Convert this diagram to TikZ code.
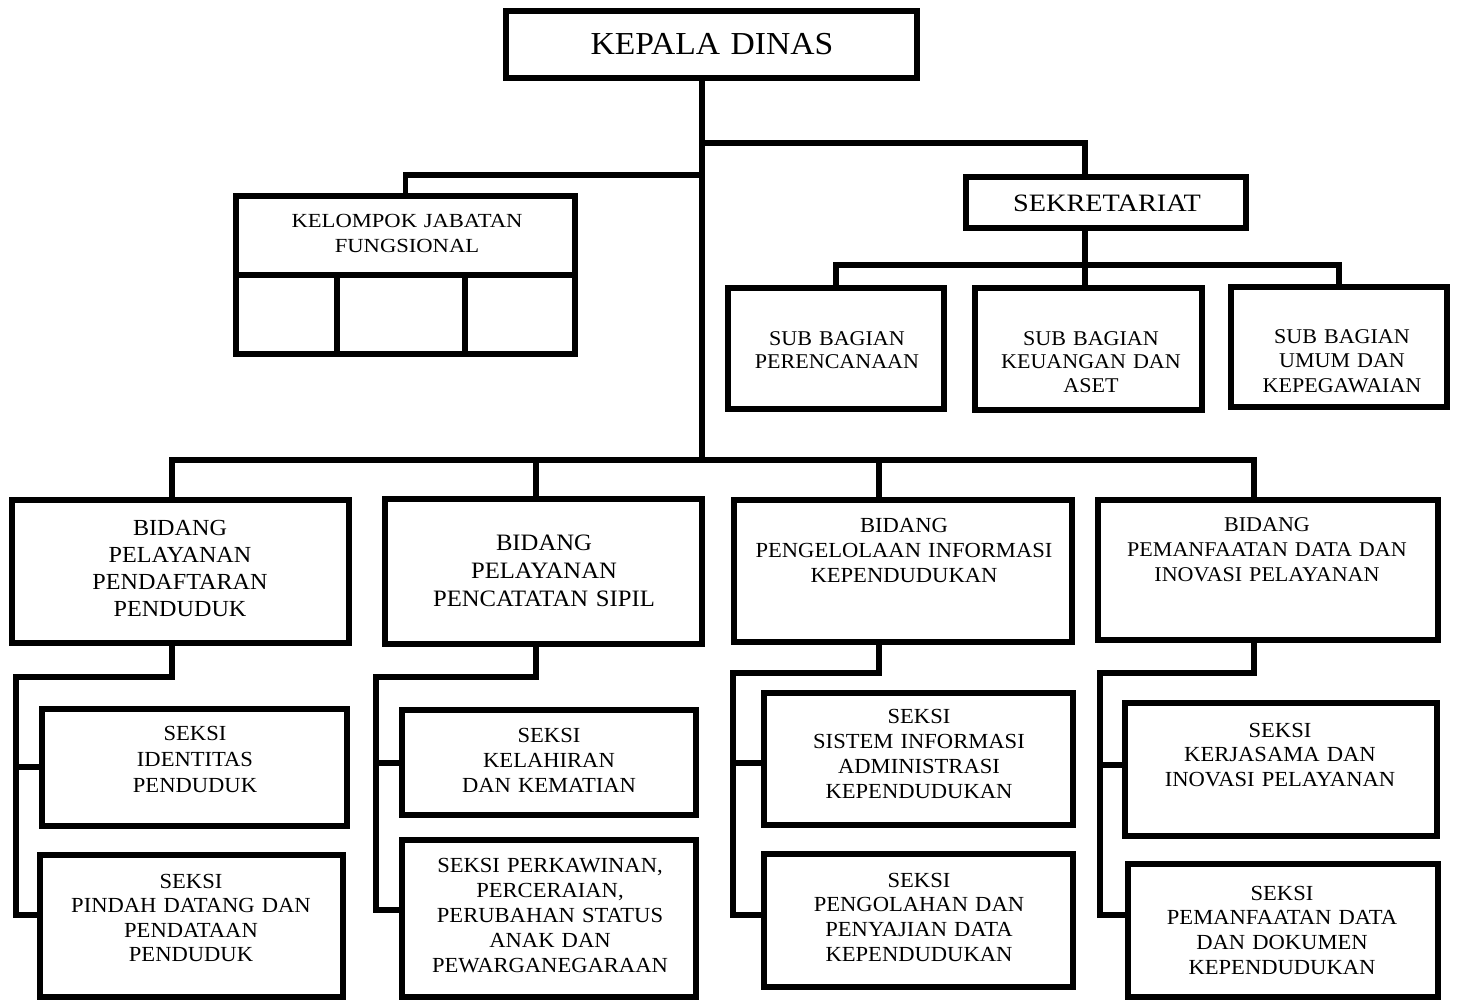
\documentclass[tikz,border=0pt]{standalone}
\usepackage{fontspec}
\setmainfont{Liberation Serif}[FakeStretch=1.05]
\newfontfamily\widefont{Liberation Serif}[FakeStretch=1.13]
\newcommand{\fsz}[2]{\fontsize{#1}{#2}\selectfont}
\begin{document}
\begin{tikzpicture}[x=1pt,y=-1pt,
  boxst/.style={draw=black,line width=6pt,rectangle,inner sep=0pt,outer sep=0pt},
  conn/.style={draw=black,line width=5.5pt,line cap=rect,line join=miter},
  lbl/.style={text width=330pt,align=center,anchor=base,inner sep=0pt,text=black}]
\useasboundingbox[fill=white] (0,0) rectangle (1459,1000);

% ---------- boxes ----------
\node[boxst,minimum width=411pt,minimum height=67pt] (kd) at (711.5,44.5) {};
\node[boxst,minimum width=339pt,minimum height=79pt] (kjf) at (405.5,235.5) {};
\node[boxst,minimum width=101pt,minimum height=79pt] (c1) at (286.5,314.5) {};
\node[boxst,minimum width=128pt,minimum height=79pt] (c2) at (401,314.5) {};
\node[boxst,minimum width=110pt,minimum height=79pt] (c3) at (520,314.5) {};
\node[boxst,minimum width=280pt,minimum height=51pt] (sek) at (1106,202.5) {};
\node[boxst,minimum width=216pt,minimum height=121pt] (sb1) at (836,348.5) {};
\node[boxst,minimum width=227pt,minimum height=122pt] (sb2) at (1088.5,349) {};
\node[boxst,minimum width=216pt,minimum height=120pt] (sb3) at (1339,347) {};
\node[boxst,minimum width=337pt,minimum height=143pt] (b1) at (180.5,571.5) {};
\node[boxst,minimum width=317pt,minimum height=145pt] (b2) at (543.5,571.5) {};
\node[boxst,minimum width=338pt,minimum height=142pt] (b3) at (903,571) {};
\node[boxst,minimum width=340pt,minimum height=140pt] (b4) at (1268,570) {};
\node[boxst,minimum width=305pt,minimum height=117pt] (s11) at (194.5,767.5) {};
\node[boxst,minimum width=303pt,minimum height=142pt] (s12) at (191.5,926) {};
\node[boxst,minimum width=294pt,minimum height=105pt] (s21) at (549,762.5) {};
\node[boxst,minimum width=294pt,minimum height=157pt] (s22) at (549,918.5) {};
\node[boxst,minimum width=309pt,minimum height=132pt] (s31) at (918.5,759) {};
\node[boxst,minimum width=309pt,minimum height=133pt] (s32) at (918.5,920.5) {};
\node[boxst,minimum width=312pt,minimum height=133pt] (s41) at (1281,769.5) {};
\node[boxst,minimum width=310pt,minimum height=133pt] (s42) at (1283,930.5) {};

% ---------- texts ----------
\node[lbl,font=\fsz{32}{38}] (kdt) at (712,55) {KEPALA DINAS};
\node[lbl,font=\widefont\fsz{20}{25}] (kjft) at (407,228) {KELOMPOK JABATAN\\FUNGSIONAL};
\node[lbl,font=\widefont\fsz{25}{30}] (sekt) at (1107,212) {SEKRETARIAT};
\node[lbl,font=\fsz{21}{23.5}] (sb1t) at (837,345) {SUB BAGIAN\\PERENCANAAN};
\node[lbl,font=\fsz{21}{23.5}] (sb2t) at (1091,345) {SUB BAGIAN\\KEUANGAN DAN\\ASET};
\node[lbl,font=\fsz{21}{24}] (sb3t) at (1342,344) {SUB BAGIAN\\UMUM DAN\\KEPEGAWAIAN};
\node[lbl,font=\fsz{23}{27.3}] (b1t) at (180,535) {BIDANG\\PELAYANAN\\PENDAFTARAN\\PENDUDUK};
\node[lbl,font=\fsz{23.5}{28}] (b2t) at (544,550) {BIDANG\\PELAYANAN\\PENCATATAN SIPIL};
\node[lbl,font=\fsz{21.5}{25}] (b3t) at (904,532) {BIDANG\\PENGELOLAAN INFORMASI\\KEPENDUDUKAN};
\node[lbl,font=\fsz{21}{25}] (b4t) at (1267,531) {BIDANG\\PEMANFAATAN DATA DAN\\INOVASI PELAYANAN};
\node[lbl,font=\fsz{21.5}{26}] (s11t) at (195,740) {SEKSI\\IDENTITAS\\PENDUDUK};
\node[lbl,font=\fsz{21.5}{24.5}] (s12t) at (191,888) {SEKSI\\PINDAH DATANG DAN\\PENDATAAN\\PENDUDUK};
\node[lbl,font=\fsz{21.5}{25}] (s21t) at (549,742) {SEKSI\\KELAHIRAN\\DAN KEMATIAN};
\node[lbl,font=\fsz{21.5}{25}] (s22t) at (550,872) {SEKSI PERKAWINAN,\\PERCERAIAN,\\PERUBAHAN STATUS\\ANAK DAN\\PEWARGANEGARAAN};
\node[lbl,font=\fsz{21.5}{25.3}] (s31t) at (919,723) {SEKSI\\SISTEM INFORMASI\\ADMINISTRASI\\KEPENDUDUKAN};
\node[lbl,font=\fsz{21.5}{24.7}] (s32t) at (919,887) {SEKSI\\PENGOLAHAN DAN\\PENYAJIAN DATA\\KEPENDUDUKAN};
\node[lbl,font=\fsz{21.5}{24.5}] (s41t) at (1280,737) {SEKSI\\KERJASAMA DAN\\INOVASI PELAYANAN};
\node[lbl,font=\fsz{21.5}{24.8}] (s42t) at (1282,900) {SEKSI\\PEMANFAATAN DATA\\DAN DOKUMEN\\KEPENDUDUKAN};

% ---------- junction coordinates ----------
\coordinate (j0) at (702,460);
\coordinate (jr) at (702,143);
\coordinate (jl) at (702,175);
\coordinate (js) at (1085,265);
\coordinate (d1) at (172,460);
\coordinate (d2) at (536,460);
\coordinate (d3) at (879,460);
\coordinate (d4) at (1254,460);
\coordinate (t1) at (16,677);   \coordinate (v1) at (16,767);   \coordinate (u1) at (16,915);
\coordinate (t2) at (376,677);  \coordinate (v2) at (376,763);  \coordinate (u2) at (376,910);
\coordinate (t3) at (733,673);  \coordinate (v3) at (733,763);  \coordinate (u3) at (733,915);
\coordinate (t4) at (1100,673); \coordinate (v4) at (1100,765); \coordinate (u4) at (1100,915);

% ---------- connectors ----------
\draw[conn] (kd.south -| j0) -- (j0);
\draw[conn] (jr) -| ([xshift=-21pt]sek.north);
\draw[conn] (jl) -| (kjf.north);
\draw[conn] ([xshift=-21pt]sek.south) -- (js);
\draw[conn] (js) -- (js |- sb2.north);
\draw[conn] (sb1.north) -- (sb1.north |- js) -- (sb3.north |- js) -- (sb3.north);
\draw[conn] (d1) -- (d4);
\draw[conn] (d1) -- (d1 |- b1.north);
\draw[conn] (d2) -- (d2 |- b2.north);
\draw[conn] (d3) -- (d3 |- b3.north);
\draw[conn] (d4) -- (d4 |- b4.north);

\draw[conn] (d1 |- b1.south) |- (t1) -- (u1) -- (u1 -| s12.west);
\draw[conn] (v1) -- (v1 -| s11.west);
\draw[conn] (d2 |- b2.south) |- (t2) -- (u2) -- (u2 -| s22.west);
\draw[conn] (v2) -- (v2 -| s21.west);
\draw[conn] (d3 |- b3.south) |- (t3) -- (u3) -- (u3 -| s32.west);
\draw[conn] (v3) -- (v3 -| s31.west);
\draw[conn] (d4 |- b4.south) |- (t4) -- (u4) -- (u4 -| s42.west);
\draw[conn] (v4) -- (v4 -| s41.west);
\end{tikzpicture}
\end{document}
